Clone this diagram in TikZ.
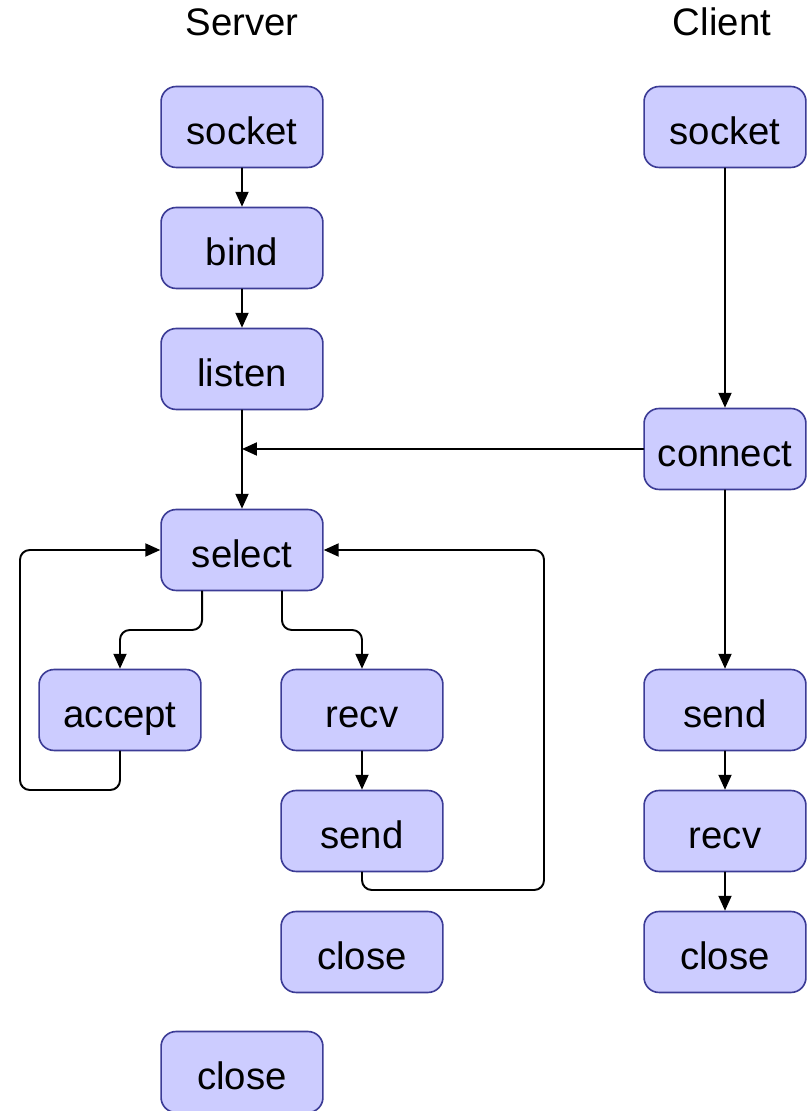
\documentclass[tikz,border=0pt]{standalone}
\usepackage{fontspec}
\setmainfont{Liberation Sans}
\usetikzlibrary{arrows.meta}
\definecolor{callfill}{RGB}{204,204,255}
\definecolor{calldraw}{RGB}{60,60,150}

\begin{document}
\begin{tikzpicture}[x=0.3077pt,y=0.3077pt,>={Triangle[length=4.6pt,width=4pt]},
  font=\fontsize{11.8}{14}\selectfont,line cap=round,
  call/.style={draw=calldraw,fill=callfill,line width=0.5pt,rounded corners=4.6pt,
    minimum width=49.8pt,minimum height=24.9pt,inner sep=0pt,
    text height=11pt,text depth=0pt},
  flow/.style={->,line width=0.6pt,rounded corners=3pt}]
\useasboundingbox (0,0) rectangle (807,1111);
\node (srvtitle) at (242,1089) {Server};
\node (clititle) at (722,1089) {Client};
% server side
\node[call] (ssocket) at (242,984) {socket};
\node[call] (sbind) at (242,863) {bind};
\node[call] (slisten) at (242,742) {listen};
\node[call] (sselect) at (242,561) {select};
\node[call] (saccept) at (120,401) {accept};
\node[call] (srecv) at (362,401) {recv};
\node[call] (ssend) at (362,280) {send};
\node[call] (sclose1) at (362,159) {close};
\node[call] (sclose2) at (242,39) {close};
% client side
\node[call] (csocket) at (725,984) {socket};
\node[call] (cconnect) at (725,662) {connect};
\node[call] (csend) at (725,401) {send};
\node[call] (crecv) at (725,280) {recv};
\node[call] (cclose) at (725,159) {close};
% bends
\coordinate (tap) at (242,662);
\coordinate (fork) at (242,481);
\coordinate (loopL) at (20,321);
\coordinate (loopR) at (544,221);
\draw[flow] (ssocket) -- (sbind);
\draw[flow] (sbind) -- (slisten);
\draw[flow] (slisten) -- (sselect);
\draw[flow] (cconnect) -- (tap);
\draw[flow] ([xshift=-12.3pt]sselect.south) |- (fork -| saccept) -- (saccept);
\draw[flow] ([xshift=12.3pt]sselect.south) |- (fork -| srecv) -- (srecv);
\draw[flow] (saccept.south) |- (loopL) |- (sselect.west);
\draw[flow] (srecv) -- (ssend);
\draw[flow] (ssend.south) |- (loopR) |- (sselect.east);
\draw[flow] (csocket) -- (cconnect);
\draw[flow] (cconnect) -- (csend);
\draw[flow] (csend) -- (crecv);
\draw[flow] (crecv) -- (cclose);
\end{tikzpicture}
\end{document}
